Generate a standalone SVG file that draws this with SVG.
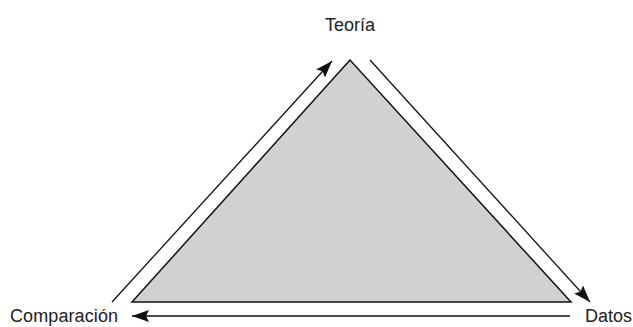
<svg xmlns="http://www.w3.org/2000/svg" width="633" height="327" viewBox="0 0 633 327">
<style>
.lbl{font-family:"Liberation Sans",Arial,sans-serif;font-size:18px;fill:#222}
.ln{stroke:#111;stroke-width:1.3;fill:none}
</style>
<defs>
<marker id="ah" viewBox="0 0 17 12" refX="17" refY="6" markerWidth="17" markerHeight="12" markerUnits="userSpaceOnUse" orient="auto">
<path d="M0,0 L17,6 L0,12 L3,6 Z" fill="#111"/>
</marker>
</defs>
<rect width="633" height="327" fill="#fff"/>
<g id="triangle">
<polygon points="350,60 132,302 571,302" fill="#d1d1d1" stroke="#111" stroke-width="1.5"/>
</g>
<g id="teoria"><text class="lbl" x="350" y="31" text-anchor="middle" textLength="50">Teoría</text></g>
<g id="comparacion"><text class="lbl" x="10" y="322" textLength="108">Comparación</text></g>
<g id="datos"><text class="lbl" x="585" y="322" textLength="47">Datos</text></g>
<g id="connectors">
<line class="ln" x1="112" y1="302" x2="332" y2="61" marker-end="url(#ah)"/>
<line class="ln" x1="370" y1="60" x2="590" y2="302" marker-end="url(#ah)"/>
<line class="ln" x1="570" y1="316" x2="132" y2="316" marker-end="url(#ah)"/>
</g>
</svg>
